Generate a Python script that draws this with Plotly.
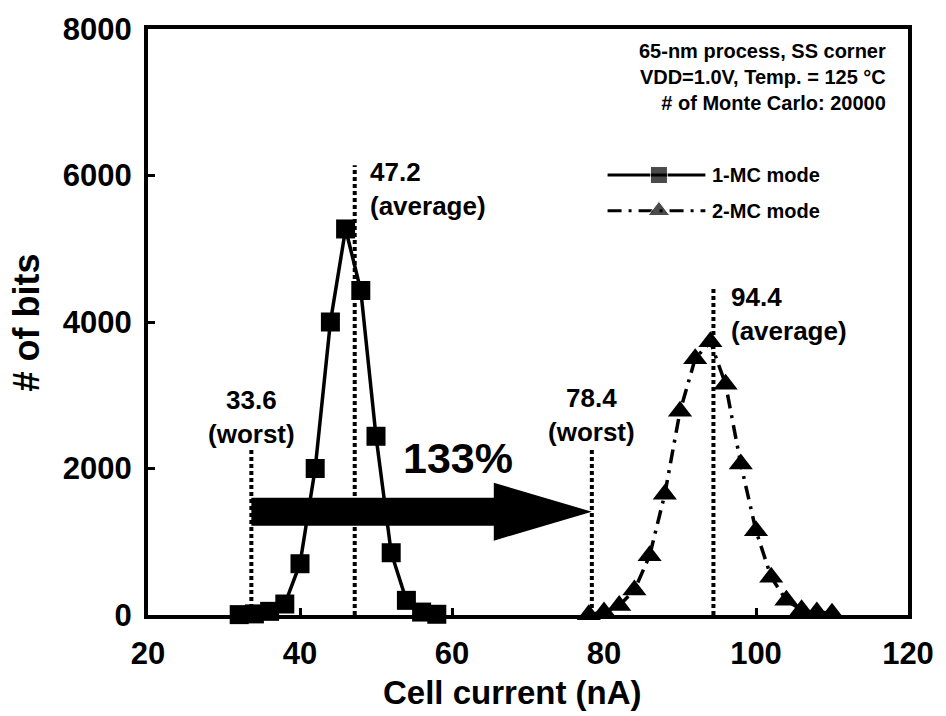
import plotly.graph_objects as go

# Cell-current histogram data (nA, number of bits)
mc1_current = [32, 34, 36, 38, 40, 42, 44, 46, 48, 50, 52, 54, 56, 58]
mc1_bits = [5, 15, 50, 150, 700, 2000, 4000, 5270, 4430, 2440, 850, 200, 40, 10]

mc2_current = [78, 80, 82, 84, 86, 88, 90, 92, 94, 96, 98, 100, 102, 104, 106, 108, 110]
mc2_bits = [5, 40, 130, 340, 810, 1650, 2780, 3500, 3730, 3150, 2060, 1150, 515, 200, 70, 40, 25]

# Reference markers: (value, label, top of dotted line)
worst_1mc, worst_2mc = 33.6, 78.4
avg_1mc, avg_2mc = 47.2, 94.4
marker_tops = {worst_1mc: 2260, avg_1mc: 6140, worst_2mc: 2280, avg_2mc: 4480}

x_ticks = [20, 40, 60, 80, 100, 120]
y_ticks = [0, 2000, 4000, 6000, 8000]

FONT = "Liberation Sans, Arial, sans-serif"

fig = go.Figure()

# vertical dotted reference lines
for xv, top in marker_tops.items():
    fig.add_shape(type="line", x0=xv, x1=xv, y0=0, y1=top, xref="x", yref="y",
                  line=dict(color="black", width=4, dash="4px,3px"), layer="below")

# big arrow showing the improvement from worst 1-MC to worst 2-MC
arrow_y, body_h, head_h, head_len = 1410, 190, 395, 12.9
head_base = worst_2mc - head_len
arrow_path = (f"M {worst_1mc},{arrow_y - body_h} L {head_base},{arrow_y - body_h} "
              f"L {head_base},{arrow_y - head_h} L {worst_2mc},{arrow_y} "
              f"L {head_base},{arrow_y + head_h} L {head_base},{arrow_y + body_h} "
              f"L {worst_1mc},{arrow_y + body_h} Z")
fig.add_shape(type="path", path=arrow_path, xref="x", yref="y",
              fillcolor="black", line=dict(width=0), layer="below")

fig.add_trace(go.Scatter(
    x=mc1_current, y=mc1_bits, mode="lines+markers", name="1-MC mode",
    line=dict(color="black", width=3.5),
    marker=dict(symbol="square", size=19, color="black"),
    showlegend=False, cliponaxis=False))

fig.add_trace(go.Scatter(
    x=mc2_current, y=mc2_bits, mode="lines+markers", name="2-MC mode",
    line=dict(color="black", width=3.5, dash="14px,7px,3px,7px"),
    marker=dict(symbol="triangle-up", size=21, color="black"),
    showlegend=False, cliponaxis=False))

# hand-drawn legend on an overlay axis (0..1 in both directions)
fig.add_trace(go.Scatter(
    x=[0.6047, 0.6723, 0.7334], y=[0.7508, 0.7508, 0.7508], mode="lines+markers",
    line=dict(color="black", width=3),
    marker=dict(symbol="square", size=[0, 17, 0], color="black"),
    xaxis="x2", yaxis="y2", showlegend=False, hoverinfo="skip"))
fig.add_trace(go.Scatter(
    x=[0.6047, 0.6723, 0.7334], y=[0.6898, 0.6898, 0.6898], mode="lines+markers",
    line=dict(color="black", width=3, dash="14px,7px,3px,7px"),
    marker=dict(symbol="triangle-up", size=[0, 19, 0], color="black"),
    xaxis="x2", yaxis="y2", showlegend=False, hoverinfo="skip"))

ann = []


def label(text, x, y, size, xanchor="center", align="center", xref="x", yref="y"):
    ann.append(dict(text=text, x=x, y=y, xref=xref, yref=yref, showarrow=False,
                    xanchor=xanchor, yanchor="middle", align=align,
                    font=dict(family=FONT, size=size, color="black", weight="bold")))


label(f"{worst_1mc}<br>(worst)", worst_1mc, 2705, 26)
label(f"{worst_2mc}<br>(worst)", worst_2mc, 2732, 26)
label(f"{avg_1mc}<br>(average)", avg_1mc + 1.7, 5810, 26, xanchor="left", align="left")
label(f"{avg_2mc}<br>(average)", avg_2mc + 2.0, 4115, 26, xanchor="left", align="left")
label("133%", 60.8, 2150, 43)

label("65-nm process, SS corner<br>VDD=1.0V, Temp. = 125 °C<br># of Monte Carlo: 20000",
      0.974, 0.918, 20, xanchor="right", align="right", xref="paper", yref="paper")
label("1-MC mode", 0.7399, 0.7508, 20, xanchor="left", align="left", xref="paper", yref="paper")
label("2-MC mode", 0.7399, 0.6898, 20, xanchor="left", align="left", xref="paper", yref="paper")

label("Cell current (nA)", 0.48, -0.132, 33, xref="paper", yref="paper")
ann.append(dict(text="# of bits", x=-0.16, y=0.5, xref="paper", yref="paper",
                showarrow=False, textangle=-90, xanchor="center", yanchor="middle",
                font=dict(family=FONT, size=36, color="black", weight="bold")))

axis_common = dict(showline=True, linewidth=4, linecolor="black", mirror=True,
                   ticks="inside", ticklen=7, tickwidth=3, tickcolor="black",
                   showgrid=False, zeroline=False,
                   tickfont=dict(family=FONT, size=31, color="black", weight="bold"))

fig.update_layout(
    width=946, height=716,
    margin=dict(l=148, r=29, t=25, b=101),
    paper_bgcolor="white", plot_bgcolor="white",
    xaxis=dict(range=[20, 120], tickvals=x_ticks, ticklabelstandoff=8, **axis_common),
    yaxis=dict(range=[0, 8000], tickvals=y_ticks, ticklabelstandoff=6, **axis_common),
    xaxis2=dict(range=[0, 1], overlaying="x", visible=False, fixedrange=True),
    yaxis2=dict(range=[0, 1], overlaying="y", visible=False, fixedrange=True),
    annotations=ann,
    showlegend=False,
)

fig.write_html("out.html")
